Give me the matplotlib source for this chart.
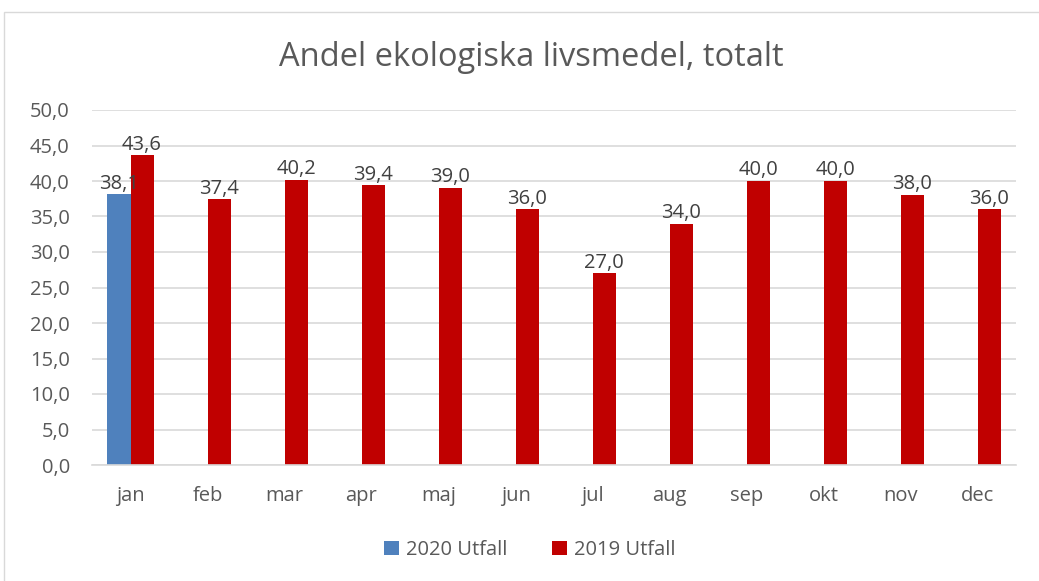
import matplotlib as mpl
mpl.use('Agg')
import matplotlib.pyplot as plt
import numpy as np

months = ['jan', 'feb', 'mar', 'apr', 'maj', 'jun', 'jul', 'aug', 'sep', 'okt', 'nov', 'dec']
utfall_2020 = [38.1]
utfall_2019 = [43.6, 37.4, 40.2, 39.4, 39.0, 36.0, 27.0, 34.0, 40.0, 40.0, 38.0, 36.0]

blue = '#4F81BD'
red = '#C00000'
txt = '#595959'

plt.rcParams['font.family'] = ['Open Sans', 'DejaVu Sans']

fig = plt.figure(figsize=(10.39, 5.81), dpi=100)
# chart border
fig.patches.append(mpl.patches.Rectangle((4 / 1039, -0.05), 1.1, 1 - 12 / 581 + 0.05,
                                         transform=fig.transFigure, fill=False,
                                         edgecolor='#D9D9D9', linewidth=1))
ax = fig.add_axes([92 / 1039, 1 - 465 / 581, 924 / 1039, 355 / 581])

x = np.arange(len(months))
w = 0.3
b20 = ax.bar(x[:len(utfall_2020)] - w / 2, utfall_2020, w, color=blue, label='2020 Utfall', zorder=2)
b19 = ax.bar(x + w / 2, utfall_2019, w, color=red, label='2019 Utfall', zorder=2)

def fmt(v):
    return f'{v:.1f}'.replace('.', ',')

fs = 14.5
for bars, vals in ((b20, utfall_2020), (b19, utfall_2019)):
    for r, v in zip(bars, vals):
        ax.text(r.get_x() + r.get_width() / 2, v + 0.1, fmt(v), ha='center', va='bottom',
                fontsize=fs, color='#404040', zorder=3)

ax.set_xlim(-0.5, len(months) - 0.5)
ax.set_ylim(0, 50)
ax.set_yticks(np.arange(0, 51, 5))
ax.set_yticklabels([fmt(v) for v in np.arange(0, 51, 5)])
ax.set_xticks(x)
ax.set_xticklabels(months)
ax.tick_params(length=0, labelsize=fs, colors=txt)
ax.tick_params(axis='x', pad=15)
ax.tick_params(axis='y', pad=16)
ax.yaxis.grid(True, color='#D9D9D9', linewidth=1.2, zorder=0)
for s in ['top', 'right', 'left']:
    ax.spines[s].set_visible(False)
ax.spines['bottom'].set_color('#D9D9D9')
ax.spines['bottom'].set_linewidth(1.2)

fig.text(0.511, 1 - 57 / 581, 'Andel ekologiska livsmedel, totalt', ha='center', va='center',
         fontsize=23.5, color=txt)

fig.legend(handles=[b20, b19], loc='center', bbox_to_anchor=(530 / 1039, 1 - 550 / 581),
           ncol=2, frameon=False, fontsize=fs, labelcolor=txt, handlelength=0.75,
           handleheight=0.75, columnspacing=2.2, handletextpad=0.35)

fig.savefig('out.png', dpi=100)
